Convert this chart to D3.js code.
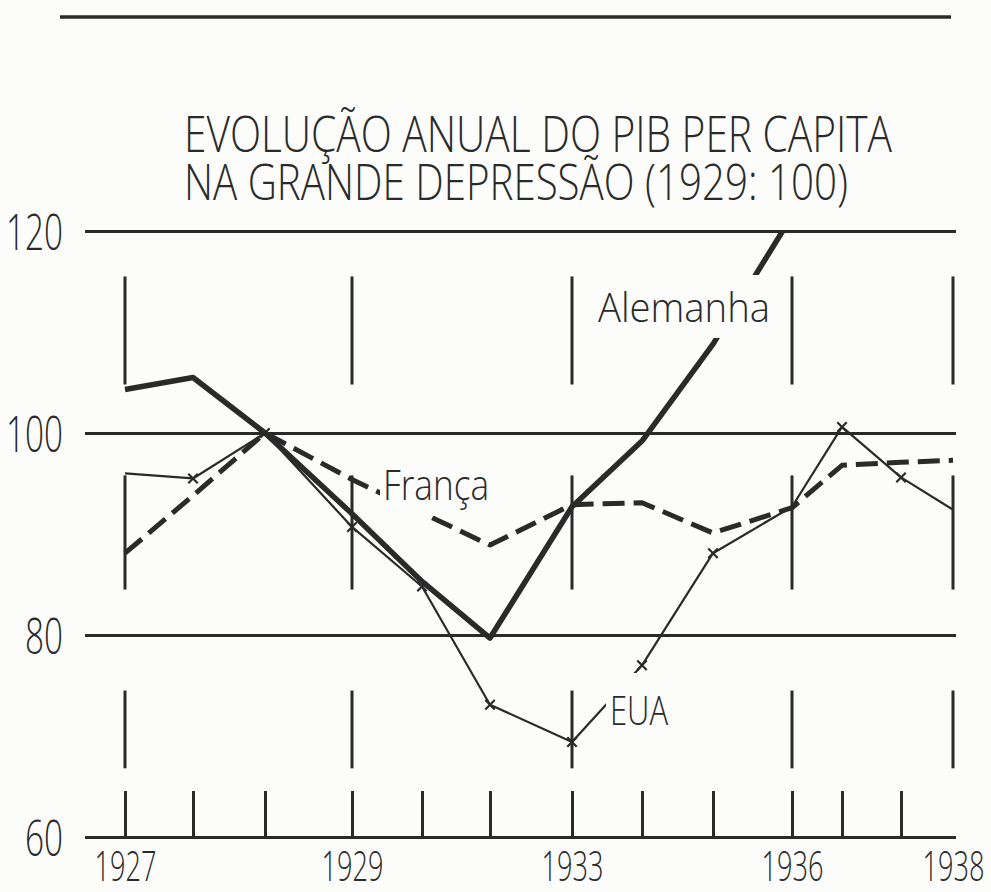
<!DOCTYPE html>
<html><head><meta charset="utf-8">
<script src="https://cdn.jsdelivr.net/npm/d3@7"></script>
<style>html,body{margin:0;padding:0;background:#fcfcfb;} svg{display:block}</style>
</head><body>
<svg id="c" width="991" height="892"></svg>
<script>
// ---------- DATA ----------
const tickLabels = ["1927","","","1929","","","1933","","","1936","","","1938"];
const germany = [104.3,105.5,100,92.0,85.3,79.7,92.7,99.2,108.8,121.5];
const france  = [88.1,93.8,100,95.4,92.1,88.9,92.9,93.1,90.1,92.6,96.8,97.1,97.3];
const usa     = [96.0,95.5,100,90.7,84.8,73.1,69.4,77.0,88.1,92.7,100.6,95.6,92.4];
const yTicks  = [60,80,100,120];
const titleLines = ["EVOLUÇÃO ANUAL DO PIB PER CAPITA","NA GRANDE DEPRESSÃO  (1929: 100)"];
const seriesNames = ["Alemanha","França","EUA"];

// ---------- LAYOUT ----------
const ink = "#2a2a2a";
const paper = "#fcfcfb";
const font = "'Open Sans', Roboto, 'Liberation Sans', sans-serif";
const svg = d3.select("#c");
const xStops = [125,193,265,352,422,490,572,642,713,792,842,901,953];
const x = d3.scaleLinear().domain(d3.range(tickLabels.length)).range(xStops);
const y = d3.scaleLinear().domain([60,120]).range([837,231]);
const gridLeft = 85, gridRight = 956;

// top page rule
svg.append("line").attr("x1",60).attr("x2",951).attr("y1",17).attr("y2",17)
  .attr("stroke",ink).attr("stroke-width",3.5);

// title
const tW = [708, 664];
svg.append("g").selectAll("text").data(titleLines).join("text")
  .attr("x",184).attr("y",(d,i)=>152+i*48)
  .attr("font-family",font).attr("font-weight",300).attr("font-size",50)
  .attr("fill",ink)
  .attr("textLength",(d,i)=>tW[i]).attr("lengthAdjust","spacingAndGlyphs")
  .text(d=>d);

// horizontal grid + y labels
const gy = svg.append("g").attr("transform",`translate(${gridLeft},0)`)
  .call(d3.axisLeft(y).tickValues(yTicks).tickSize(-(gridRight-gridLeft)).tickPadding(22));
gy.select(".domain").remove();
gy.selectAll(".tick line").attr("stroke",ink).attr("stroke-width",3);
gy.selectAll(".tick text").attr("font-family",font).attr("font-weight",300)
  .attr("font-size",50).attr("fill",ink).attr("dy","0.36em")
  .attr("textLength",d=>String(d).length*19).attr("lengthAdjust","spacingAndGlyphs");

// vertical segmented guides at labelled years
const bands = [[104.8,115.5],[84.5,95.8],[66.8,74.5]];
const major = d3.range(tickLabels.length).filter(i=>tickLabels[i]!=="");
const segs = [];
major.forEach(i=>bands.forEach(b=>segs.push({i,b})));
svg.append("g").selectAll("line").data(segs).join("line")
  .attr("x1",d=>x(d.i)).attr("x2",d=>x(d.i))
  .attr("y1",d=>y(d.b[1])).attr("y2",d=>y(d.b[0]))
  .attr("stroke",ink).attr("stroke-width",3);

// bottom axis ticks and labels
const gx = svg.append("g").attr("transform",`translate(0,${y(60)})`)
  .call(d3.axisBottom(x).tickValues(d3.range(tickLabels.length)).tickSize(-46).tickSizeOuter(0)
        .tickFormat(i=>tickLabels[i]));
gx.select(".domain").remove();
gx.selectAll(".tick line").attr("stroke",ink).attr("stroke-width",3)
  .attr("opacity",(d,i)=> i===tickLabels.length-1 ? 0 : 1);
gx.selectAll(".tick text").attr("y",14).attr("font-family",font).attr("font-weight",300)
  .attr("font-size",42).attr("fill",ink)
  .attr("textLength",d=>tickLabels[d] ? 62 : null).attr("lengthAdjust","spacingAndGlyphs");

// clip for Germany at 120
svg.append("clipPath").attr("id","clip").append("rect")
  .attr("x",0).attr("y",y(120)).attr("width",991).attr("height",892);

const line = d3.line().x((d,i)=>x(i)).y(d=>y(d));

// France (dashed)
svg.append("path").datum(france).attr("d",line).attr("fill","none")
  .attr("stroke",ink).attr("stroke-width",5).attr("stroke-dasharray","22,9")
  .attr("stroke-linejoin","round");

// USA (thin with crosses)
svg.append("path").datum(usa).attr("d",line).attr("fill","none")
  .attr("stroke",ink).attr("stroke-width",2.2).attr("stroke-linejoin","round");
const markIdx = d3.range(1,usa.length-1).filter(i=>i!==9);
const markG = svg.append("g");

// Germany (thick)
svg.append("path").datum(germany).attr("d",line).attr("fill","none")
  .attr("clip-path","url(#clip)")
  .attr("stroke",ink).attr("stroke-width",5.5).attr("stroke-linejoin","round");

// series labels with paper background  (pad: top, right, bottom, left)
const lab = [
  {t:seriesNames[0], x:598, y:322, fs:40, w:172, pad:[4,6,4,6]},
  {t:seriesNames[1], x:383, y:500, fs:42, w:106, pad:[3,4,4,3]},
  {t:seriesNames[2], x:610, y:725, fs:40, w:58,  pad:[9,4,4,4]}
];
lab.forEach(l=>{
  const g = svg.append("g");
  const r = g.append("rect").attr("fill",paper);
  const t = g.append("text").attr("x",l.x).attr("y",l.y)
    .attr("font-family",font).attr("font-weight",300).attr("font-size",l.fs)
    .attr("fill",ink).attr("textLength",l.w).attr("lengthAdjust","spacingAndGlyphs").text(l.t);
  const bb = t.node().getBBox();
  r.attr("x",bb.x-l.pad[3]).attr("y",bb.y-l.pad[0])
   .attr("width",bb.width+l.pad[1]+l.pad[3])
   .attr("height",bb.height+l.pad[0]+l.pad[2]);
});

// US markers on top
markG.raise().selectAll("path").data(markIdx).join("path")
  .attr("transform",i=>`translate(${x(i)},${y(usa[i])})`)
  .attr("d",d3.symbol(d3.symbolTimes,60)).attr("fill","none")
  .attr("stroke",ink).attr("stroke-width",2.2);
</script>
</body></html>
